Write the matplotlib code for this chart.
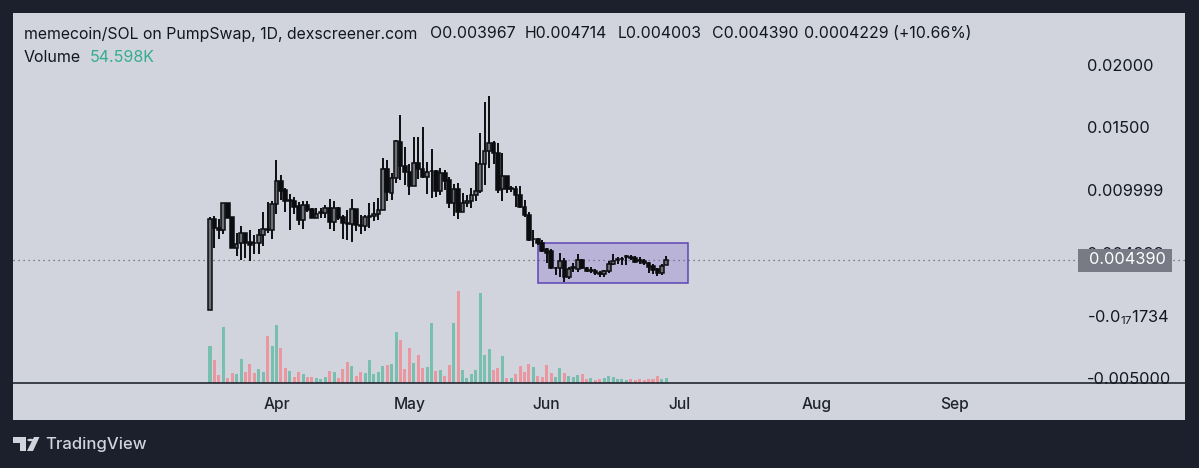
#!/usr/bin/env python3
"""Daily memecoin/SOL candlesticks with volume, on a light panel inside a dark frame."""
import matplotlib
matplotlib.use('Agg')
import matplotlib.pyplot as plt
import matplotlib.dates as mdates
from matplotlib.patches import Circle, Polygon, Rectangle
import pandas as pd

plt.rcParams['font.family'] = ['Inter', 'DejaVu Sans']
plt.rcParams['mathtext.default'] = 'regular'

FIRST_DAY = "2025-03-17"

opens = [
    .00040, .00765, .00693, .00680, .00899, .00781, .00539, .00573, .00653, .00581,
    .00579, .00573, .00640, .00688, .00683, .00888, .01072, .01000, .00915, .00915,
    .00869, .00760, .00883, .00851, .00779, .00819, .00819, .00856, .00747, .00856,
    .00787, .00739, .00725, .00845, .00723, .00715, .00787, .00792, .00805, .00840,
    .01168, .00979, .01093, .01387, .01195, .01147, .01032, .01219, .01165, .01107,
    .01152, .01155, .00995, .01139, .01080, .00893, .01008, .00827, .00899, .00909,
    .00963, .00989, .01208, .01309, .01373, .01293, .01005, .01115, .01008, .01011,
    .00957, .00861, .00800, .00605, .00605, .00579, .00525, .00512, .00373, .00379,
    .00432, .00307, .00373, .00371, .00440, .00376, .00355, .00355, .00339, .00328,
    .00349, .00408, .00440, .00445, .00467, .00467, .00453, .00440, .00432, .00413,
    .00392, .00365, .00339, .003967,
]
highs = [
    .00787, .00792, .00765, .00899, .00899, .00781, .00653, .00712, .00659, .00680,
    .00640, .00685, .00824, .00907, .00915, .01240, .01123, .01013, .00965, .00941,
    .00907, .00912, .00912, .00856, .00853, .00853, .00877, .00925, .00915, .00867,
    .00800, .00840, .00925, .00845, .00803, .00800, .00893, .00907, .00933, .01259,
    .01240, .01133, .01400, .01600, .01341, .01208, .01427, .01421, .01507, .01221,
    .01325, .01160, .01179, .01160, .01107, .01048, .01053, .00973, .00960, .01013,
    .01227, .01453, .01707, .01752, .01395, .01379, .01293, .01115, .01032, .01032,
    .01032, .00920, .00827, .00680, .00616, .00600, .00533, .00525, .00381, .00493,
    .00453, .00381, .00413, .00488, .00445, .00387, .00381, .00365, .00355, .00360,
    .00432, .00488, .00467, .00461, .00477, .00477, .00472, .00461, .00445, .00427,
    .00408, .00373, .00408, .004714,
]
lows = [
    .00040, .00539, .00605, .00648, .00779, .00539, .00472, .00440, .00453, .00435,
    .00488, .00488, .00555, .00653, .00611, .00805, .00920, .00827, .00680, .00808,
    .00720, .00688, .00827, .00773, .00773, .00779, .00779, .00688, .00672, .00760,
    .00605, .00600, .00587, .00672, .00645, .00675, .00699, .00755, .00760, .00840,
    .00912, .00920, .01053, .01080, .01040, .00960, .01032, .01085, .01093, .00968,
    .00933, .00947, .00957, .01000, .00853, .00792, .00765, .00821, .00867, .00853,
    .00915, .00979, .01040, .01173, .01208, .00973, .00915, .00973, .00987, .00867,
    .00853, .00781, .00595, .00547, .00560, .00504, .00413, .00365, .00320, .00307,
    .00267, .00285, .00341, .00347, .00365, .00344, .00333, .00320, .00307, .00307,
    .00339, .00400, .00408, .00400, .00400, .00440, .00413, .00405, .00400, .00339,
    .00328, .00312, .00320, .004003,
]
closes = [
    .00765, .00693, .00680, .00899, .00779, .00539, .00568, .00653, .00579, .00563,
    .00573, .00640, .00688, .00683, .00888, .01072, .00995, .00909, .00920, .00867,
    .00760, .00883, .00840, .00779, .00805, .00824, .00856, .00741, .00856, .00779,
    .00736, .00728, .00845, .00720, .00715, .00787, .00792, .00808, .00840, .01168,
    .00981, .01093, .01389, .01195, .01147, .01032, .01213, .01165, .01101, .01147,
    .01155, .00995, .01139, .01075, .00893, .01005, .00827, .00899, .00909, .00963,
    .00989, .01208, .01309, .01373, .01293, .01000, .01115, .01005, .01019, .00957,
    .00861, .00800, .00600, .00611, .00573, .00515, .00499, .00373, .00379, .00432,
    .00307, .00365, .00381, .00440, .00373, .00352, .00360, .00336, .00328, .00349,
    .00408, .00432, .00445, .00451, .00472, .00453, .00427, .00432, .00413, .00387,
    .00360, .00333, .00392, .004390,
]
# volume in thousands
volumes = [
    378, 234, 79, 574, 55, 106, 96, 244, 113, 193,
    103, 144, 110, 481, 378, 600, 364, 151, 121, 59,
    110, 93, 62, 59, 52, 38, 59, 121, 116, 48,
    144, 213, 178, 69, 116, 100, 234, 96, 113, 172,
    182, 196, 522, 446, 141, 364, 209, 288, 155, 162,
    621, 121, 131, 69, 188, 621, 951, 137, 55, 90,
    134, 924, 288, 353, 137, 155, 278, 52, 52, 96,
    178, 110, 196, 168, 72, 65, 188, 106, 65, 151,
    100, 69, 62, 82, 90, 41, 52, 34, 44, 48,
    69, 65, 38, 38, 34, 44, 34, 41, 34, 41,
    44, 69, 41, 54.598,
]

month_starts = ["2025-04-01", "2025-05-01", "2025-06-01", "2025-07-01", "2025-08-01", "2025-09-01"]
month_labels = ["Apr", "May", "Jun", "Jul", "Aug", "Sep"]
price_ticks = [0.02, 0.015, 0.009999, 0.004999, 0.0, -0.005]
price_labels = ["0.02000", "0.01500", "0.009999", "0.004999", "-0.0$_{17}$1734", "-0.005000"]
change_label = "0.0004229 (+10.66%)"

# consolidation box
box_start = "2025-05-30"
box_end = "2025-07-03"
box_top = 0.00572
box_bottom = 0.00256

FRAME = '#1c202c'
PANEL = '#d1d4dc'
INK = '#131722'
WICK = '#0c0d10'
UP_BODY = '#6e7078'
VOL_UP = '#78bfb0'
VOL_DOWN = '#ea979f'

W, H = 1199, 468
# panel edges in pixels
LEFT, RIGHT, TOP, BOTTOM = 13, 1185, 13, 420


def px(x, y):
    return x / W, 1 - y / H


def main():
    fig = plt.figure(figsize=(W / 100, H / 100), dpi=100, facecolor=FRAME)
    vol_ax = fig.add_axes([LEFT / W, 1 - BOTTOM / H, (RIGHT - LEFT) / W, (BOTTOM - TOP) / H])
    ax = vol_ax.twinx()
    ax.set_zorder(vol_ax.get_zorder() + 1)
    ax.patch.set_visible(False)
    vol_ax.set_facecolor(PANEL)

    days = pd.date_range(FIRST_DAY, periods=len(closes), freq='D')
    x = mdates.date2num(days)

    # 4.43 px per day, first candle at x=210
    vol_ax.set_xlim(x[0] - 197 / 4.43, x[0] + 975 / 4.43)
    ax.set_ylim(-0.0084, 0.02416)
    vol_ax.set_ylim(-381, 3811)

    up = [c >= o for o, c in zip(opens, closes)]
    vol_ax.bar(x, volumes, width=0.68, linewidth=0,
               color=[VOL_UP if u else VOL_DOWN for u in up])
    vol_ax.axhline(0, color=INK, linewidth=1.1)

    ax.axhline(closes[-1], color='#5f626c', linewidth=0.9, linestyle=(0, (1, 3)), zorder=1)

    x0, x1 = mdates.date2num(pd.to_datetime([box_start, box_end]))
    ax.add_patch(Rectangle((x0, box_bottom), x1 - x0, box_top - box_bottom,
                           facecolor='#7b5fd0', alpha=0.28, linewidth=0, zorder=1.5))
    ax.add_patch(Rectangle((x0, box_bottom), x1 - x0, box_top - box_bottom,
                           fill=False, edgecolor='#5f45b5', linewidth=1.1, zorder=1.6))

    ax.vlines(x, lows, highs, color=WICK, linewidth=1.4, zorder=2)
    bottoms = [min(o, c) for o, c in zip(opens, closes)]
    heights = [abs(c - o) for o, c in zip(opens, closes)]
    ax.bar(x, heights, bottom=bottoms, width=0.82, linewidth=1.1, edgecolor=WICK,
           color=[UP_BODY if u else WICK for u in up], zorder=3)

    # axis labels sit inside the panel
    vol_ax.set_xticks(mdates.date2num(pd.to_datetime(month_starts)))
    vol_ax.set_xticklabels(month_labels, fontsize=11.2, color='#20242f', fontweight='medium')
    vol_ax.tick_params(axis='x', length=0, pad=-16.5)
    vol_ax.set_yticks([])

    ax.yaxis.tick_right()
    ax.set_yticks(price_ticks)
    ax.set_yticklabels(price_labels, fontsize=11.8, color=INK, ha='left')
    ax.tick_params(axis='y', length=0, pad=-70.5)

    for a in (ax, vol_ax):
        for spine in a.spines.values():
            spine.set_visible(False)

    # last price tag covers the nearest axis label
    ax.add_patch(Rectangle(px(1078, 272), 94 / W, 23 / H, transform=fig.transFigure,
                           facecolor='#787b86', linewidth=0, zorder=5, clip_on=False))
    fig.text(*px(1089, 260), f"{closes[-1]:.6f}", color='white', fontsize=11.8,
             va='center', ha='left', zorder=6)

    # header
    header = [
        (24, "memecoin/SOL on PumpSwap, 1D, dexscreener.com"),
        (430, f"O{opens[-1]:.6f}"),
        (525, f"H{highs[-1]:.6f}"),
        (618, f"L{lows[-1]:.6f}"),
        (712, f"C{closes[-1]:.6f}"),
        (804, change_label),
    ]
    for hx, text in header:
        fig.text(*px(hx, 34), text, color=INK, fontsize=11.4, va='center', ha='left')
    fig.text(*px(24, 58), "Volume", color=INK, fontsize=11.5, va='center', ha='left')
    fig.text(*px(90, 58), f"{volumes[-1]:.3f}K", color='#35ac90', fontsize=11.5, va='center', ha='left')

    # footer logo and wordmark
    logo = dict(facecolor=PANEL, edgecolor='none', transform=fig.transFigure)
    fig.patches.append(Polygon([px(13, 437), px(26, 437), px(26, 451), px(19.5, 451), px(19.5, 443), px(13, 443)], **logo))
    fig.patches.append(Polygon([px(34, 437), px(39.5, 437), px(33, 451), px(27, 451)], **logo))
    fig.patches.append(Circle(px(30.5, 440), 0.0027, **logo))
    fig.text(*px(45, 445), "TradingView", color=PANEL, fontsize=12, va='center', ha='left', fontweight='medium')

    fig.savefig("out.png", dpi=100, facecolor=FRAME)


if __name__ == "__main__":
    main()
